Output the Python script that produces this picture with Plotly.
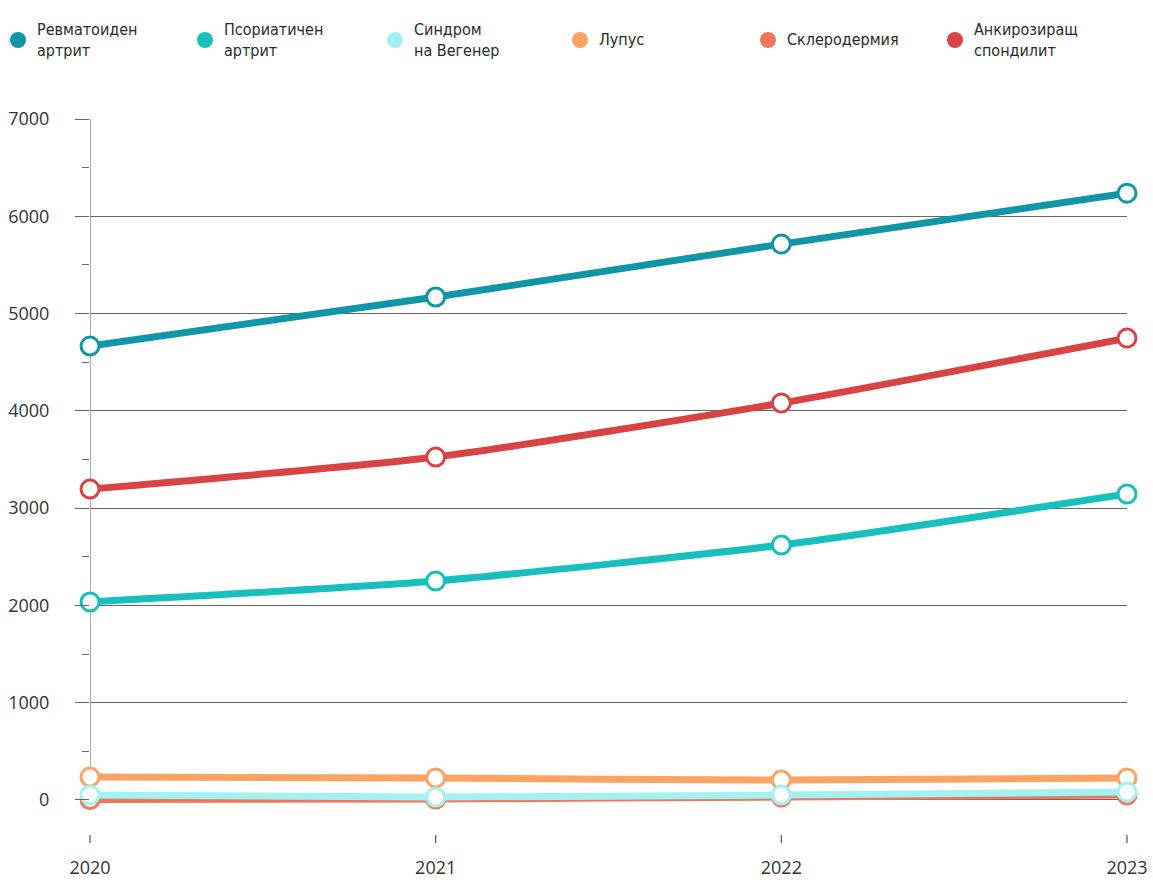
import plotly.graph_objects as go

years = ["2020", "2021", "2022", "2023"]
names = ["Ревматоиден<br>артрит", "Псориатичен<br>артрит", "Синдром<br>на Вегенер",
         "Лупус", "Склеродермия", "Анкирозиращ<br>спондилит"]
colors = ["#1096a6", "#17c0bf", "#a3f1f0", "#fca464", "#f0775d", "#d94343"]

ra = [4666, 5170, 5714, 6238]
pa = [2035, 2251, 2621, 3145]
wegener = [51, 31, 51, 82]
lupus = [236, 226, 205, 226]
scl = [5, 10, 30, 50]
spond = [3196, 3525, 4080, 4748]
series = [ra, pa, wegener, lupus, scl, spond]

ytick_vals = [0, 1000, 2000, 3000, 4000, 5000, 6000, 7000]
ytick_text = ["0", "1000", "2000", "3000", "4000", "5000", "6000", "7000"]
yminor = [500, 1500, 2500, 3500, 4500, 5500, 6500]

# layout geometry
W, H = 1153, 882
ML, MR, MT, MB = 90, 26, 119, 47
PW, PH = W - ML - MR, H - MT - MB
legend_px = [18, 205, 395, 580, 768, 955]   # legend marker centres (pixels)
legend_py = 40


def px2paper_x(px):
    return (px - ML) / PW


def py2paper_y(py):
    return (H - MB - py) / PH


fig = go.Figure()

order = [4, 3, 2, 1, 5, 0]
for i in order:
    fig.add_trace(go.Scatter(
        x=years, y=series[i], mode="lines+markers",
        line=dict(color=colors[i], width=7, shape="spline", smoothing=0.6),
        marker=dict(size=18, color="white", line=dict(color=colors[i], width=3)),
        cliponaxis=False, showlegend=False, name=names[i].replace("<br>", " "),
        hovertemplate="%{x}: %{y}<extra>%{fullData.name}</extra>",
    ))

# y axis line from 0 to 7000
fig.add_shape(type="line", xref="x", yref="y", x0=0, x1=0, y0=0, y1=7000,
              line=dict(color="#777", width=1.2), layer="below")

# x tick marks below the plot area (category index -> paper fraction)
n = len(years)
for k in range(n):
    xp = k / (n - 1)
    fig.add_shape(type="line", xref="paper", yref="paper", x0=xp, x1=xp,
                  y0=py2paper_y(835), y1=py2paper_y(843),
                  line=dict(color="#555", width=1.2))

# manual legend
for i in range(6):
    cx = px2paper_x(legend_px[i])
    cy = py2paper_y(legend_py)
    fig.add_shape(type="circle", xref="paper", yref="paper",
                  xsizemode="pixel", ysizemode="pixel",
                  xanchor=cx, yanchor=cy, x0=-8, x1=8, y0=-8, y1=8,
                  fillcolor=colors[i], line=dict(width=0))
    fig.add_annotation(xref="paper", yref="paper",
                       x=px2paper_x(legend_px[i] + 17), y=cy,
                       xanchor="left", yanchor="middle", align="left",
                       text=names[i], showarrow=False,
                       font=dict(family="DejaVu Sans Condensed, Roboto, sans-serif",
                                 size=16, color="#2a2a2a"))

fig.update_layout(
    width=W, height=H,
    margin=dict(l=ML, r=MR, t=MT, b=MB, autoexpand=False),
    paper_bgcolor="white", plot_bgcolor="white",
    showlegend=False,
    font=dict(family="Open Sans, Lato, sans-serif", color="#333", size=18),
    xaxis=dict(type="category", range=[0, 3], showgrid=False, zeroline=False,
               showline=False, ticks="",
               tickfont=dict(size=18, color="#333"), ticklabelstandoff=20, automargin=False),
    yaxis=dict(range=[-360, 7000], tickvals=ytick_vals, ticktext=ytick_text,
               showgrid=True, gridcolor="#666", gridwidth=1, zeroline=False,
               showline=False, ticks="outside", ticklen=14, tickcolor="#666",
               tickfont=dict(size=18, color="#333"), ticklabelstandoff=22, automargin=False,
               minor=dict(tickvals=yminor, ticks="outside", ticklen=7, tickcolor="#666",
                          showgrid=False)),
)

fig.write_html("out.html")
